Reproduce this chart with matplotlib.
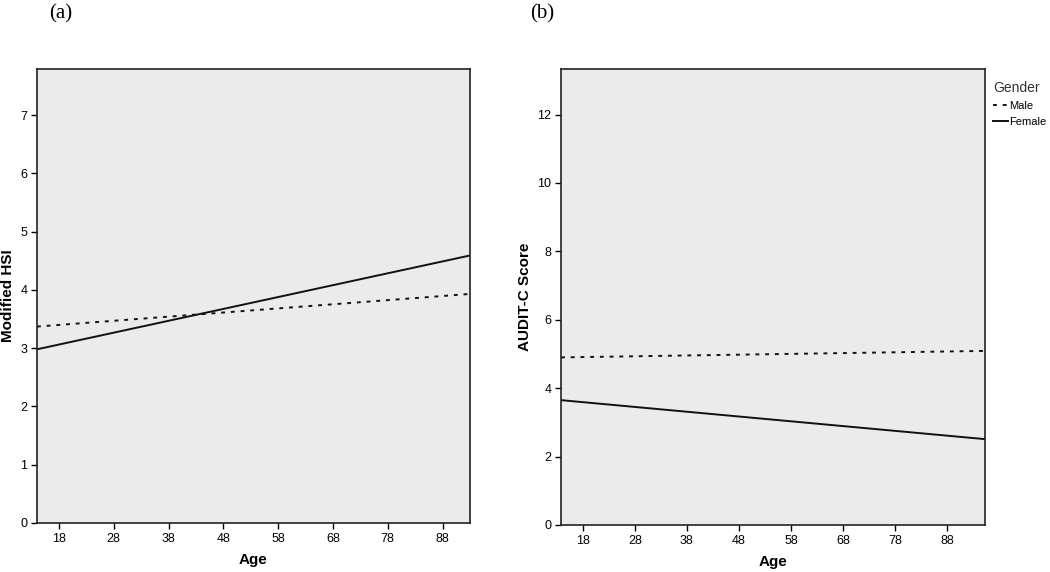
import numpy as np
import matplotlib.pyplot as plt

plt.rcParams['font.family'] = ['Liberation Sans', 'DejaVu Sans']

# endpoints of fitted lines (age at left/right edge)
age_a = [14, 93]
hsi_male = [3.37, 3.93]
hsi_female = [2.98, 4.59]

age_b = [13.8, 95.3]
audit_male = [4.90, 5.09]
audit_female = [3.65, 2.51]

age_ticks = [18, 28, 38, 48, 58, 68, 78, 88]
hsi_ticks = [0, 1, 2, 3, 4, 5, 6, 7]
audit_ticks = [0, 2, 4, 6, 8, 10, 12]

bg = '#ebebeb'

fig = plt.figure(figsize=(10.5, 5.72), dpi=100)
ax1 = fig.add_axes([0.0352, 0.0857, 0.4124, 0.7937])
ax2 = fig.add_axes([0.5343, 0.0822, 0.4038, 0.797])


def style(ax, yticks, ylabel):
    ax.set_facecolor(bg)
    for s in ax.spines.values():
        s.set_linewidth(1.2)
        s.set_color('#222222')
    ax.set_xticks(age_ticks)
    ax.set_yticks(yticks)
    ax.tick_params(direction='out', length=4, width=1, labelsize=9, pad=3)
    ax.set_xlabel('Age', fontsize=11, fontweight='bold', labelpad=6)
    ax.set_ylabel(ylabel, fontsize=11, fontweight='bold', labelpad=4)


ax1.plot(age_a, hsi_male, color='#111111', lw=1.4, ls=(0, (2, 3)))
ax1.plot(age_a, hsi_female, color='#111111', lw=1.4)
ax1.set_xlim(age_a)
ax1.set_ylim(0, 7.79)
style(ax1, hsi_ticks, 'Modified HSI')

lm, = ax2.plot(age_b, audit_male, color='#111111', lw=1.4, ls=(0, (2, 3)), label='Male')
lf, = ax2.plot(age_b, audit_female, color='#111111', lw=1.4, label='Female')
ax2.set_xlim(age_b)
ax2.set_ylim(0, 13.33)
style(ax2, audit_ticks, 'AUDIT-C Score')

leg = ax2.legend(handles=[lm, lf], title='Gender', loc='upper left',
                 bbox_to_anchor=(1.0, 0.99), frameon=False, fontsize=8,
                 title_fontsize=10, handlelength=1.4, handletextpad=0.1,
                 borderaxespad=0.3, labelspacing=0.5)
leg._legend_box.align = 'left'
leg.get_title().set_color('#333333')

fig.text(0.047, 0.975, '(a)', fontsize=15, family='Liberation Serif', va='center')
fig.text(0.505, 0.975, '(b)', fontsize=15, family='Liberation Serif', va='center')

fig.savefig('out.png', dpi=100)
